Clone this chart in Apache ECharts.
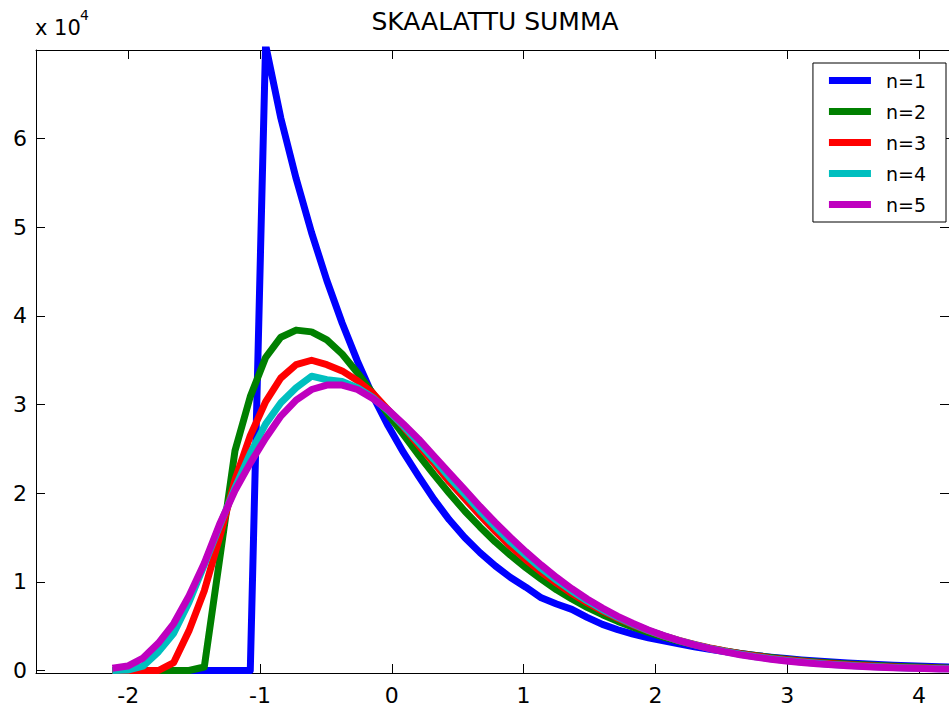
<!DOCTYPE html>
<html><head><meta charset="utf-8">
<script src="https://cdn.jsdelivr.net/npm/echarts@6/dist/echarts.min.js"></script>
<style>html,body{margin:0;padding:0;background:#fff}#c{width:949px;height:708px}</style>
</head><body><div id="c"></div>
<script>
const xValues = [-2.120,-2.004,-1.888,-1.771,-1.655,-1.539,-1.423,-1.307,-1.190,-1.074,
  -0.958,-0.842,-0.726,-0.609,-0.493,-0.377,-0.261,-0.145,-0.028,0.088,
  0.204,0.320,0.436,0.553,0.669,0.785,0.901,1.017,1.134,1.250,
  1.366,1.482,1.598,1.715,1.831,1.947,2.063,2.179,2.296,2.412,
  2.528,2.644,2.760,2.877,2.993,3.109,3.225,3.341,3.458,3.574,
  3.690,3.806,3.922,4.039,4.155,4.271];
const n1 = [0,0,0,0,0,0,0,0,0,0,
  70600,62300,55500,49400,44000,39200,34900,31000,27600,24600,
  21900,19300,17000,15000,13300,11800,10500,9400,8200,7500,
  6900,6000,5200,4600,4100,3700,3350,3000,2680,2400,
  2140,1910,1700,1510,1345,1200,1065,950,845,750,
  670,600,530,470,420,375];
const n2 = [0,0,0,0,0,0,400,12500,24800,30900,
  35300,37600,38400,38200,37300,35700,33600,31300,28900,26600,
  24300,22100,20000,18000,16200,14500,13000,11600,10300,9100,
  8070,7130,6300,5540,4880,4290,3760,3300,2890,2530,
  2210,1930,1690,1470,1280,1115,970,845,734,638,
  554,480,417,361,313,271];
const n3 = [0,0,0,0,900,4500,9000,15000,21500,26500,
  30300,33000,34500,35000,34500,33800,32700,31300,29400,27500,
  25400,23400,21300,19400,17500,15700,14000,12500,11100,9860,
  8690,7650,6720,5890,5150,4490,3910,3400,2940,2540,
  2200,1900,1640,1400,1210,1040,890,760,650,556,
  475,405,346,294,250,212];
const n4 = [0,50,500,2100,4200,7700,11900,16300,20600,24500,
  27800,30200,31900,33200,32800,32600,31900,30800,29300,27600,
  25700,23800,21800,19900,18000,16200,14500,13000,11500,10200,
  8970,7870,6880,6000,5220,4520,3910,3370,2910,2490,
  2140,1830,1560,1330,1130,960,814,688,583,492,
  415,350,294,247,207,174];
const n5 = [250,500,1400,3100,5300,8400,12100,16500,20300,23400,
  26200,28700,30500,31700,32200,32200,31700,30700,29400,27800,
  26100,24200,22300,20400,18500,16700,15000,13400,11900,10500,
  9230,8070,7040,6110,5300,4570,3940,3380,2890,2460,
  2100,1780,1510,1270,1080,906,762,639,534,447,
  374,310,258,215,178,148];
const seriesNames = ['n=1','n=2','n=3','n=4','n=5'];
const seriesValues = [n1,n2,n3,n4,n5];
const seriesColors = ['#0000ff','#008000','#ff0000','#00bfbf','#bf00bf'];
const xTicks = [-2,-1,0,1,2,3,4];
const yTicks = [0,10000,20000,30000,40000,50000,60000];
const titleText = 'SKAALATTU SUMMA';

const FONT = 'DejaVu Sans';
const X_MIN = -2.70, X_MAX = 4.228, Y_MIN = -280, Y_MAX = 70000;

const chart = echarts.init(document.getElementById('c'), null, {renderer: 'svg'});
const axisLineStyle = {color: '#000', width: 1};
function axisLine() { return {show: true, onZero: false, lineStyle: axisLineStyle}; }
function ticks(vals) { return {show: true, inside: true, length: 9, customValues: vals, lineStyle: axisLineStyle}; }
const option = {
  animation: false,
  backgroundColor: '#fff',
  title: {
    text: titleText, left: 490, top: 4, textAlign: 'center',
    textStyle: {fontFamily: FONT, fontSize: 25, fontWeight: 'normal', color: '#000'}
  },
  graphic: [
    {type: 'text', left: 35, top: 17, style: {text: 'x 10', font: '21px "DejaVu Sans"', fill: '#000'}},
    {type: 'text', left: 80, top: 8, style: {text: '4', font: '14px "DejaVu Sans"', fill: '#000'}}
  ],
  legend: {
    orient: 'vertical', right: 3, top: 63,
    itemWidth: 42, itemHeight: 7, itemGap: 12, icon: 'rect',
    padding: [8, 20, 8, 16],
    borderColor: '#000', borderWidth: 1, backgroundColor: '#fff',
    textStyle: {fontFamily: FONT, fontSize: 19, color: '#000', padding: [0, 0, 0, 10]},
    data: seriesNames
  },
  grid: {left: 36, top: 50, right: -7, bottom: 35, containLabel: false},
  xAxis: [
    {type: 'value', min: X_MIN, max: X_MAX, position: 'bottom',
     axisLine: axisLine(), axisTick: ticks(xTicks),
     axisLabel: {show: true, customValues: xTicks, margin: 11, fontFamily: FONT, fontSize: 22, color: '#000'},
     splitLine: {show: false}},
    {type: 'value', min: X_MIN, max: X_MAX, position: 'top',
     axisLine: axisLine(), axisTick: ticks(xTicks),
     axisLabel: {show: false}, splitLine: {show: false}}
  ],
  yAxis: [
    {type: 'value', min: Y_MIN, max: Y_MAX, position: 'left',
     axisLine: axisLine(), axisTick: ticks(yTicks),
     axisLabel: {show: true, customValues: yTicks, margin: 9, fontFamily: FONT, fontSize: 22, color: '#000',
       formatter: v => String(Math.round(v / 10000))},
     splitLine: {show: false}},
    {type: 'value', min: Y_MIN, max: Y_MAX, position: 'right',
     axisLine: axisLine(), axisTick: ticks(yTicks),
     axisLabel: {show: false}, splitLine: {show: false}}
  ],
  series: seriesNames.map((name, i) => ({
    name: name, type: 'line', xAxisIndex: 0, yAxisIndex: 0,
    color: seriesColors[i],
    showSymbol: false, symbol: 'none', clip: true,
    lineStyle: {color: seriesColors[i], width: 7, join: 'round', cap: 'butt'},
    itemStyle: {color: seriesColors[i]},
    emphasis: {disabled: true},
    data: xValues.map((x, j) => [x, seriesValues[i][j]])
  }))
};
chart.setOption(option);
</script>
</body></html>
